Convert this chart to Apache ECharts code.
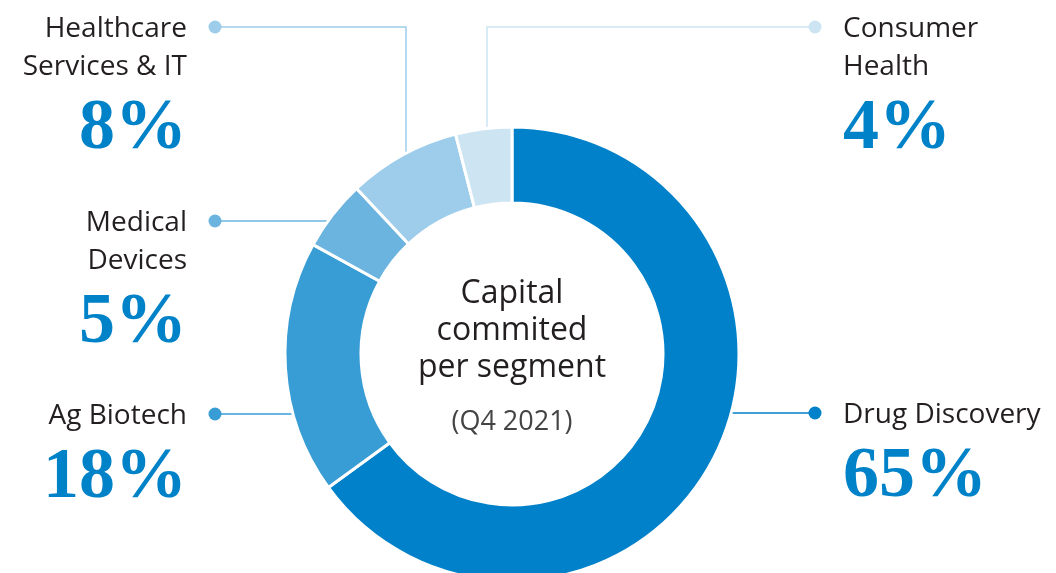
<!DOCTYPE html>
<html>
<head>
<meta charset="utf-8">
<script src="https://cdn.jsdelivr.net/npm/echarts@6/dist/echarts.min.js"></script>
<style>html,body{margin:0;padding:0;background:#fff}#c{width:1056px;height:573px}</style>
</head>
<body>
<div id="c"></div>
<script>
const categories = ['Drug Discovery', 'Ag Biotech', 'Medical Devices', 'Healthcare Services & IT', 'Consumer Health'];
const labelTexts = ['Drug Discovery', 'Ag Biotech', 'Medical\nDevices', 'Healthcare\nServices & IT', 'Consumer\nHealth'];
const shares = [65, 18, 5, 8, 4];
const sliceColors = ['#0081c9', '#389cd5', '#6cb4e0', '#9dcdea', '#cde5f3'];
const centerLines = ['Capital', 'commited', 'per segment'];
const centerSub = '(Q4 2021)';

// layout (pixels)
const CX = 512, CY = 354, R_OUT = 227, R_IN = 151;
const anchors = [
  { dot: [815, 413], side: 'right' },
  { dot: [215, 414], side: 'left' },
  { dot: [215, 221], side: 'left' },
  { dot: [215, 27], side: 'left', elbowX: 406 },
  { dot: [815, 27], side: 'right', elbowX: 487 }
];
const TEXT_GAP = 28;

const chart = echarts.init(document.getElementById('c'), null, { renderer: 'canvas' });

function edgeY(x) { return CY - Math.sqrt(R_OUT * R_OUT - (x - CX) * (x - CX)); }
function edgeX(y, side) {
  const d = Math.sqrt(R_OUT * R_OUT - (y - CY) * (y - CY));
  return side === 'left' ? CX - d : CX + d;
}

const data = categories.map((c, i) => ({ name: c, value: shares[i], itemStyle: { color: sliceColors[i] } }));

const graphics = [];
anchors.forEach((a, i) => {
  graphics.push({ type: 'circle', shape: { cx: a.dot[0], cy: a.dot[1], r: 6.5 }, style: { fill: sliceColors[i] }, z: 100 });
});
centerLines.forEach((t, i) => {
  graphics.push({ type: 'text', x: CX, y: 294 + i * 37, style: { text: t, font: '400 32px "Open Sans"', fill: '#231f20', textAlign: 'center', textVerticalAlign: 'middle' }, z: 100 });
});
graphics.push({ type: 'text', x: CX, y: 422, style: { text: centerSub, font: '400 27px "Open Sans"', fill: '#444', textAlign: 'center', textVerticalAlign: 'middle' }, z: 100 });

chart.setOption({
  animation: false,
  series: [{
    type: 'pie',
    center: [CX, CY],
    radius: [R_IN, R_OUT],
    startAngle: 90,
    clockwise: true,
    avoidLabelOverlap: false,
    emphasis: { disabled: true },
    itemStyle: { borderColor: '#fff', borderWidth: 3 },
    data: data,
    label: {
      show: true,
      position: 'outside',
      formatter: p => '{n|' + labelTexts[p.dataIndex] + '}\n{p|' + p.value + '%}',
      rich: {
        n: { fontFamily: 'Open Sans', fontSize: 28, color: '#231f20', lineHeight: 38 },
        p: { fontFamily: 'Liberation Serif', fontWeight: 'bold', fontSize: 72, color: '#0082c8', lineHeight: 86 }
      }
    },
    labelLine: { show: true, lineStyle: { width: 1.5 } },
    labelLayout: function (params) {
      const a = anchors[params.dataIndex];
      const dx = a.dot[0], dy = a.dot[1];
      let pts;
      if (a.elbowX !== undefined) {
        pts = [[a.elbowX, edgeY(a.elbowX)], [a.elbowX, dy], [dx, dy]];
      } else {
        const sx = edgeX(dy, a.side);
        pts = [[sx, dy], [(sx + dx) / 2, dy], [dx, dy]];
      }
      return {
        x: a.side === 'left' ? dx - TEXT_GAP : dx + TEXT_GAP,
        y: dy - 17,
        align: a.side === 'left' ? 'right' : 'left',
        verticalAlign: 'top',
        labelLinePoints: pts
      };
    }
  }],
  graphic: graphics
});
</script>
</body>
</html>
